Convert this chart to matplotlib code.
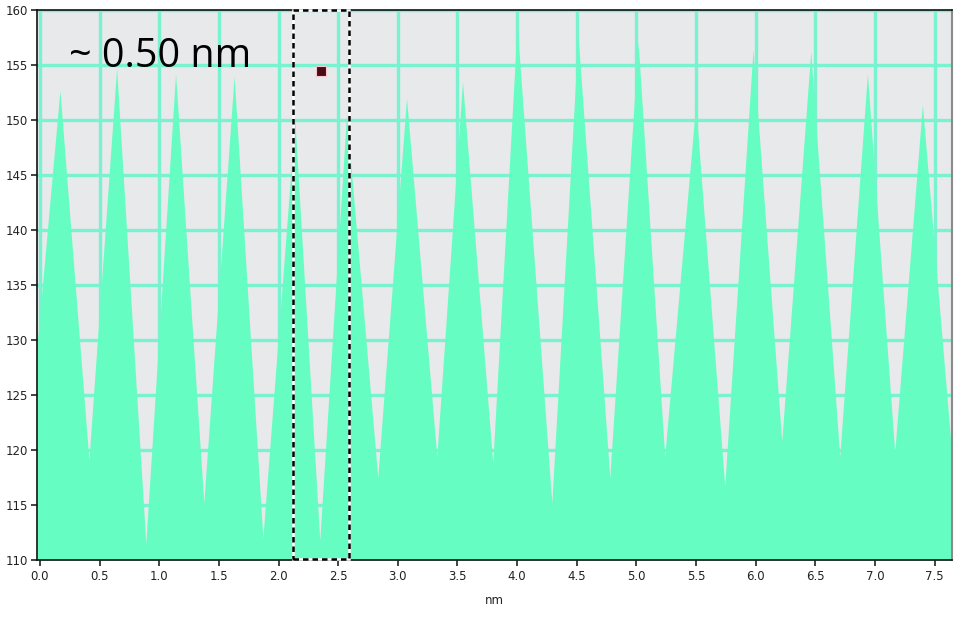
import numpy as np
import matplotlib.pyplot as plt
from matplotlib.patches import Rectangle

# line profile: alternating valley / peak vertices (nm, intensity)
profile_x = [-0.02, 0.168, 0.411, 0.643, 0.888, 1.137, 1.374, 1.628, 1.869,
             2.137, 2.346, 2.570, 2.832, 3.073, 3.327, 3.542, 3.796, 4.000,
             4.291, 4.511, 4.777, 5.014, 5.237, 5.497, 5.740, 5.977, 6.218,
             6.461, 6.704, 6.936, 7.165, 7.397, 7.645]
profile_y = [130.0, 152.7, 119.1, 154.7, 111.5, 154.2, 115.2, 154.0, 112.0,
             150.0, 111.8, 150.5, 117.5, 152.0, 119.4, 153.5, 118.8, 158.6,
             115.2, 157.6, 117.5, 157.1, 119.4, 151.4, 116.7, 156.4, 120.8,
             156.2, 119.4, 154.2, 119.8, 151.4, 119.4]

x_ticks = np.arange(0, 7.51, 0.5)
y_ticks = np.arange(110, 161, 5)

# highlighted spacing box and marker
box_x = [2.118, 2.590]
box_y = [110.1, 160.0]
marker_x, marker_y = 2.355, 154.45
label_text = "~ 0.50 nm"

fill_color = "#66fdc2"
grid_color = "#78f2cf"
bg_color = "#e7e9eb"

fig = plt.figure(figsize=(9.59, 6.18), dpi=100)
ax = fig.add_axes([0.0391, 0.0939, 0.9536, 0.8899])
ax.set_facecolor(bg_color)

ax.fill_between(profile_x, 110, profile_y, color=fill_color, lw=0, zorder=2)

ax.set_xlim(-0.02, 7.645)
ax.set_ylim(110, 160)
ax.set_xticks(x_ticks)
ax.set_xticklabels([f"{v:.1f}" for v in x_ticks])
ax.set_yticks(y_ticks)
ax.set_yticklabels([f"{v:d}" for v in y_ticks])
ax.tick_params(labelsize=8.5, length=4, width=1.2, colors="#222222", pad=3)
ax.grid(True, color=grid_color, lw=2.4, zorder=1)
ax.set_axisbelow(True)
ax.set_xlabel("nm", fontsize=8.5, color="#222222", labelpad=8)

for side in ["left", "bottom", "top"]:
    ax.spines[side].set_color("#111111")
    ax.spines[side].set_linewidth(1.2)
ax.spines["right"].set_color("#8a8a8a")
ax.spines["right"].set_linewidth(1.5)

# dashed box: white under black dashes
for col, ls in [("white", "-"), ("black", (0, (2.2, 1.6)))]:
    ax.add_patch(Rectangle((box_x[0], box_y[0]), box_x[1] - box_x[0],
                           box_y[1] - box_y[0], fill=False, ec=col, lw=1.8,
                           ls=ls, zorder=4, clip_on=False))

ax.plot([marker_x], [marker_y], marker="s", ms=7, color="#4a0c12",
        mec="#f3c9d0", mew=0.8, zorder=5)

ax.text(0.245, 154.8, label_text, fontsize=28.5, family="Open Sans",
        color="black", va="baseline", ha="left", zorder=6)

fig.savefig("out.png", dpi=100)
